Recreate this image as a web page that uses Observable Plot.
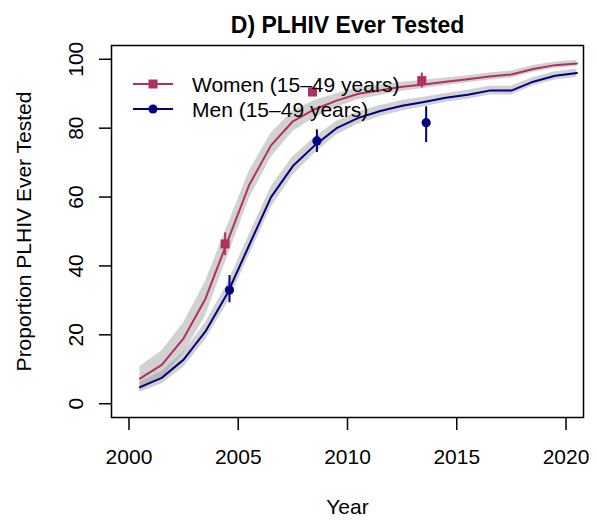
<!DOCTYPE html>
<html><head><meta charset="utf-8">
<script src="https://cdn.jsdelivr.net/npm/d3@7"></script>
<script src="https://cdn.jsdelivr.net/npm/@observablehq/plot@0.6"></script>
<style>body{margin:0;background:#fff} #chart{width:597px;height:520px}</style>
</head><body><div id="chart"></div>
<script>
// ---- data ----
const years = [2000.5,2001.5,2002.5,2003.5,2004.5,2005.5,2006.5,2007.5,2008.5,2009.5,2010.5,2011.5,2012.5,2013.5,2014.5,2015.5,2016.5,2017.5,2018.5,2019.5,2020.5];
const womenModel = [7.3,11.3,19,30.5,47,63.5,75,82,85.5,88,90,91,92,92.7,93.5,94.2,95,95.6,97.2,98.3,98.8];
const womenLo    = [3.8,7.3,14.5,25.5,42.5,59.5,71.5,79,83,86,88.3,89.5,90.7,91.5,92.4,93.2,94,94.6,96.2,97.4,97.9];
const womenHi    = [10.8,15.3,23.5,35.5,51.5,67.5,78.5,85,88,90,91.7,92.5,93.3,93.9,94.6,95.2,96,96.6,98.2,99.2,99.7];
const menModel   = [4.8,7.5,12.8,21,32,46,60,69,75,80,83,85,86.5,87.6,88.8,89.7,90.9,90.9,93.5,95.2,96];
const menLo      = [3.3,5.7,10.6,18.5,29.2,43,57,66.3,72.7,78,81.2,83.4,85,86.2,87.5,88.4,89.6,89.6,92.3,94,94.8];
const menHi      = [6.3,9.3,15,23.5,34.8,49,63,71.7,77.3,82,84.8,86.6,88,89,90.1,91,92.2,92.2,94.7,96.4,97.2];

const womenSurveyYears = [2004.4,2008.4,2013.4];
const womenSurvey      = [46.4,90.5,93.8];
const womenSurveyLo    = [43,89.3,91.7];
const womenSurveyHi    = [49.6,91.7,96];
const menSurveyYears   = [2004.6,2008.6,2013.6];
const menSurvey        = [33,76.3,81.6];
const menSurveyLo      = [29.3,72.9,75.8];
const menSurveyHi      = [37.2,79.5,86.2];

const sexes = ["Women (15\u201349 years)","Men (15\u201349 years)"];
const sexColors = ["#B03060","#000080"];
const xTicks = [2000,2005,2010,2015,2020];
const yTicks = [0,20,40,60,80,100];
const title = "D) PLHIV Ever Tested";
const xLabel = "Year";
const yLabel = "Proportion PLHIV Ever Tested";

// ---- tables ----
const model = [
  ...years.map((year,i)=>({sex:sexes[0], year, value:womenModel[i], lo:womenLo[i], hi:womenHi[i]})),
  ...years.map((year,i)=>({sex:sexes[1], year, value:menModel[i], lo:menLo[i], hi:menHi[i]}))
];
const surveyW = womenSurveyYears.map((year,i)=>({sex:sexes[0], year, value:womenSurvey[i], lo:womenSurveyLo[i], hi:womenSurveyHi[i]}));
const surveyM = menSurveyYears.map((year,i)=>({sex:sexes[1], year, value:menSurvey[i], lo:menSurveyLo[i], hi:menSurveyHi[i]}));

const FONT = "'Liberation Sans', Arial, Helvetica, sans-serif";

const chart = Plot.plot({
  width: 597, height: 520,
  marginLeft: 111, marginRight: 14, marginTop: 45, marginBottom: 103,
  style: {fontFamily: FONT, background: "#fff", color: "#000"},
  x: {domain: [1999.2, 2020.8], axis: null},
  y: {domain: [-4, 104], axis: null},
  color: {domain: sexes, range: sexColors},
  marks: [
    Plot.areaY(model, {x:"year", y1:"lo", y2:"hi", z:"sex", fill:"#999", fillOpacity:0.45}),
    Plot.lineY(model, {x:"year", y:"value", z:"sex", stroke:"sex", strokeWidth:2}),
    Plot.ruleX([...surveyW, ...surveyM], {x:"year", y1:"lo", y2:"hi", stroke:"sex", strokeWidth:2}),
    Plot.dot(surveyW, {x:"year", y:"value", fill:"sex", symbol:"square", r:5.1}),
    Plot.dot(surveyM, {x:"year", y:"value", fill:"sex", symbol:"circle", r:4.6}),
    Plot.frame({stroke:"#000", strokeWidth:1.5}),
    Plot.axisX({ticks:xTicks, tickSize:13, tickPadding:19, fontSize:21, tickFormat:d=>String(d), label:null, strokeWidth:1.5}),
    Plot.axisY({ticks:yTicks, tickSize:12, tickFormat:()=>"", label:null, strokeWidth:1.5}),
    Plot.text(yTicks, {y:d=>d, text:d=>String(d), frameAnchor:"left", rotate:-90, dx:-29, textAnchor:"middle", lineAnchor:"bottom", fontSize:21}),
    Plot.text([yLabel], {text:d=>d, frameAnchor:"left", rotate:-90, dx:-81, textAnchor:"middle", lineAnchor:"bottom", fontSize:21}),
    Plot.text([xLabel], {text:d=>d, frameAnchor:"bottom", dy:96, textAnchor:"middle", lineAnchor:"bottom", fontSize:21}),
    Plot.text([title], {text:d=>d, frameAnchor:"top", dy:-13, textAnchor:"middle", lineAnchor:"bottom", fontSize:23, fontWeight:"bold"})
  ]
});

// legend (R-style, no box, top-left inside plot)
const svg = d3.select(chart);
const lg = svg.append("g").attr("font-family", FONT).attr("font-size", 21).attr("text-anchor", "start");
const rows = [{y:84, shape:"square"},{y:109, shape:"circle"}];
sexes.forEach((s,i)=>{
  const g = lg.append("g");
  const y = rows[i].y, c = sexColors[i];
  g.append("line").attr("x1",133).attr("x2",173).attr("y1",y).attr("y2",y).attr("stroke",c).attr("stroke-width",2);
  if (rows[i].shape==="square") g.append("rect").attr("x",148.5).attr("y",y-4.5).attr("width",9).attr("height",9).attr("fill",c);
  else g.append("circle").attr("cx",153).attr("cy",y).attr("r",4.6).attr("fill",c);
  g.append("text").attr("x",192).attr("y",y+7.5).attr("fill","#000").attr("text-anchor","start").text(s);
});
document.getElementById("chart").appendChild(chart);
</script></body></html>
